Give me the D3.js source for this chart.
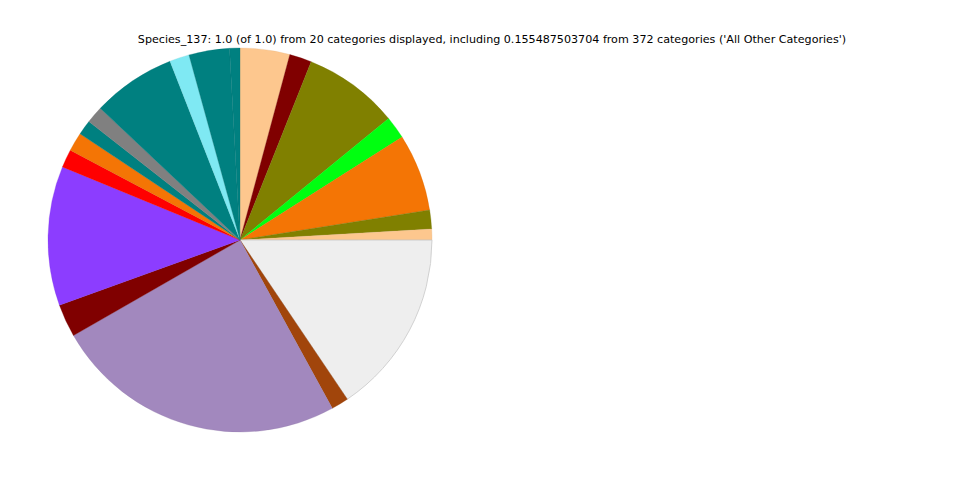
<!DOCTYPE html>
<html>
<head>
<meta charset="utf-8">
<script src="https://cdn.jsdelivr.net/npm/d3@7"></script>
<style>
  html, body { margin: 0; padding: 0; background: #ffffff; }
  svg { display: block; }
</style>
</head>
<body>
<div id="chart"></div>
<script>
const titleText = "Species_137: 1.0 (of 1.0) from 20 categories displayed, including 0.155487503704 from 372 categories ('All Other Categories')";
const categories = [
  "Category 1", "Category 2", "Category 3", "Category 4", "Category 5",
  "Category 6", "Category 7", "All Other Categories", "Category 9", "Category 10",
  "Category 11", "Category 12", "Category 13", "Category 14", "Category 15",
  "Category 16", "Category 17", "Category 18", "Category 19", "Category 20"
];
const values = [
  0.0418, 0.0186, 0.0804, 0.0191, 0.0651,
  0.0158, 0.0092, 0.1555, 0.0146, 0.2469,
  0.0277, 0.1173, 0.0153, 0.0158, 0.0125,
  0.0145, 0.0703, 0.0166, 0.0341, 0.0087
];
const colors = [
  "#fdc78e", "#800000", "#808000", "#00ff10", "#f47505",
  "#808000", "#fdc78e", "#eeeeee", "#a1450b", "#a288be",
  "#800000", "#8c3dff", "#ff0000", "#f47505", "#008080",
  "#808080", "#008080", "#7fe9f3", "#008080", "#008080"
];

const W = 960, H = 480;
const svg = d3.select("#chart").append("svg").attr("width", W).attr("height", H);

const data = categories.map((c, i) => ({ name: c, value: values[i], color: colors[i] }));
const pie = d3.pie().sort(null).value(d => d.value);
const arc = d3.arc().innerRadius(0).outerRadius(192);

const g = svg.append("g").attr("transform", "translate(240,240)");
g.selectAll("path")
  .data(pie(data))
  .join("path")
  .attr("d", arc)
  .attr("fill", d => d.data.color)
  .attr("stroke", d => d.data.name === "All Other Categories" ? "#c8c8c8" : d3.color(d.data.color).darker(0.3))
  .attr("stroke-width", d => d.data.name === "All Other Categories" ? 0.8 : 0.3);

svg.append("text")
  .attr("x", 492)
  .attr("y", 43)
  .attr("text-anchor", "middle")
  .attr("font-family", "DejaVu Sans, sans-serif")
  .attr("font-size", 11.13)
  .attr("fill", "#000")
  .text(titleText);
</script>
</body>
</html>
